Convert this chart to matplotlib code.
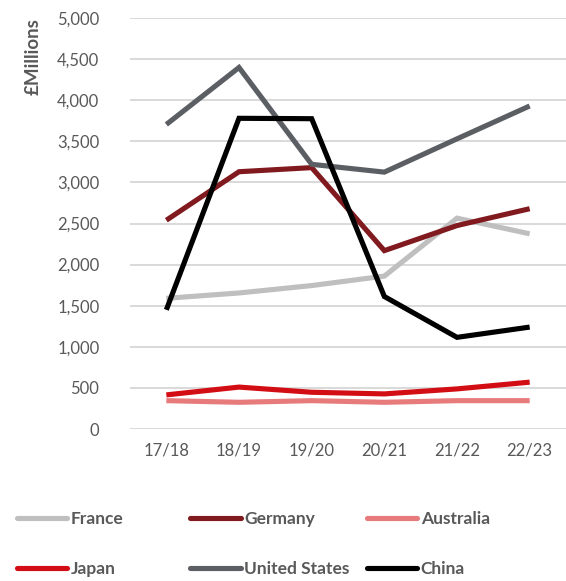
import matplotlib
matplotlib.use("Agg")
import matplotlib.pyplot as plt
from matplotlib.lines import Line2D

plt.rcParams['font.family'] = ['Lato', 'DejaVu Sans']

years = ['17/18', '18/19', '19/20', '20/21', '21/22', '22/23']
france = [1590, 1655, 1745, 1860, 2565, 2375]
germany = [2540, 3130, 3180, 2170, 2475, 2680]
australia = [345, 325, 345, 325, 345, 345]
japan = [415, 510, 447, 427, 488, 570]
united_states = [3705, 4398, 3220, 3125, 3530, 3930]
china = [1450, 3780, 3775, 1612, 1115, 1240]

series = [
    ('France', france, '#BFBFBF'),
    ('Germany', germany, '#801A1F'),
    ('Australia', australia, '#E77B7B'),
    ('Japan', japan, '#D30D14'),
    ('United States', united_states, '#5B5E63'),
    ('China', china, '#000000'),
]

grey = '#595959'

fig = plt.figure(figsize=(5.66, 5.81), dpi=100)
ax = fig.add_axes([0.2297, 0.2616, 0.7703, 0.7074])

x = list(range(len(years)))
handles = {}
for name, vals, col in series:
    ln, = ax.plot(x, vals, color=col, lw=3.7, solid_capstyle='butt',
                  solid_joinstyle='miter', label=name)
    handles[name] = ln

ax.set_xlim(-0.5, len(years) - 0.5)
ax.set_ylim(0, 5000)
ax.set_yticks(range(0, 5001, 500))
ax.set_yticklabels([f'{v:,}' for v in range(0, 5001, 500)])
ax.set_xticks(x)
ax.set_xticklabels(years)
ax.tick_params(axis='both', length=0, labelsize=12, labelcolor=grey)
ax.tick_params(axis='y', pad=22)
ax.tick_params(axis='x', pad=10)
ax.grid(axis='y', color='#D9D9D9', lw=1.4)
ax.set_axisbelow(True)
for s in ax.spines.values():
    s.set_visible(False)

ax.set_ylabel('£Millions', loc='top', fontsize=13.5, fontweight='bold',
              color=grey, labelpad=11)

# legend: three columns of two entries each
cols = [('France', 'Japan'), ('Germany', 'United States'), ('Australia', 'China')]
col_x = [0.018, 0.324, 0.636]
for (a, b), cx in zip(cols, col_x):
    lg = fig.legend([handles[a], handles[b]], [a, b], loc='upper left',
                    bbox_to_anchor=(cx, 0.133), frameon=False,
                    handlelength=2.9, handletextpad=0.2, labelspacing=2.0,
                    prop={'size': 12.5, 'weight': 'bold'}, labelcolor=grey,
                    borderaxespad=0, borderpad=0.4)
    for h in lg.legend_handles:
        h.set_solid_capstyle('round')

fig.savefig('out.png', dpi=100)
